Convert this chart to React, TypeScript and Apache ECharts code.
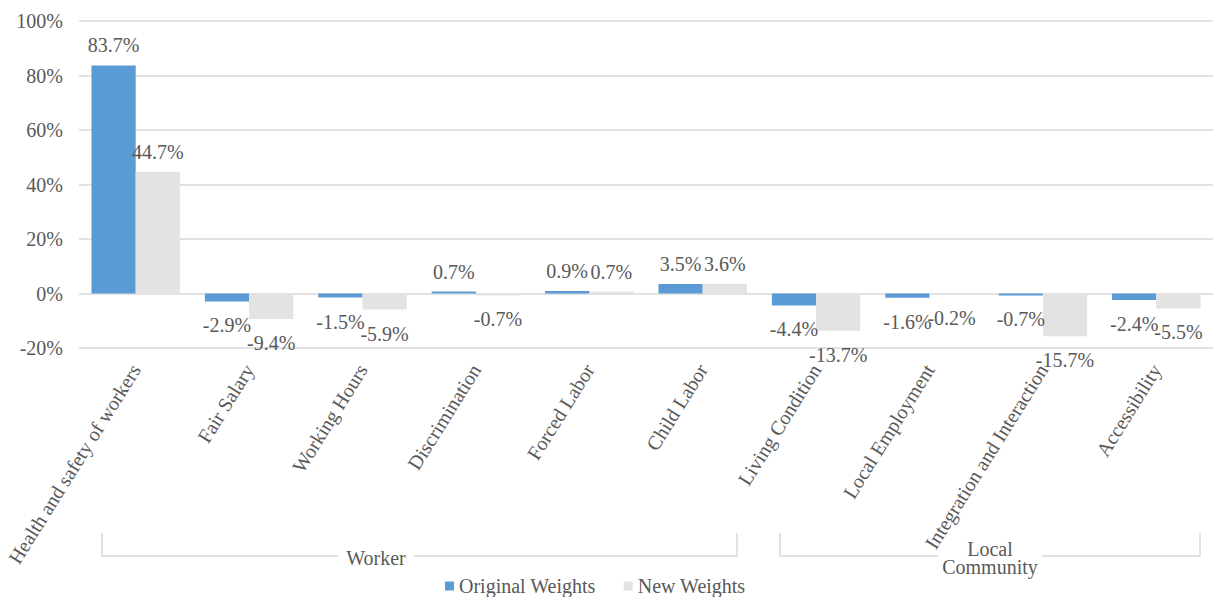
import React, { useEffect, useRef } from "react";
import * as echarts from "echarts";

const categories = [
  "Health and safety of workers",
  "Fair Salary",
  "Working Hours",
  "Discrimination",
  "Forced Labor",
  "Child Labor",
  "Living Condition",
  "Local Employment",
  "Integration and Interaction",
  "Accessibility",
];
const originalWeights = [83.7, -2.9, -1.5, 0.7, 0.9, 3.5, -4.4, -1.6, -0.7, -2.4];
const newWeights = [44.7, -9.4, -5.9, -0.7, 0.7, 3.6, -13.7, -0.2, -15.7, -5.5];
const groupNames = ["Worker", "Local\nCommunity"];

const FONT = "Liberation Serif";
const TEXT = "#595959";
const FS = 20;

function toItems(values: number[]) {
  return values.map((v) => ({
    value: v,
    label: {
      position: v < 0 ? "bottom" : "top",
      distance: v < 0 ? 14 : 10,
    },
  }));
}

export default function App() {
  const ref = useRef<HTMLDivElement>(null);
  useEffect(() => {
    if (!ref.current) return;
    const chart = echarts.init(ref.current, null, { renderer: "svg" });
    const lineStyle = { stroke: "#d9d9d9", lineWidth: 1.5 };
    const seriesLabel = {
      show: true,
      fontFamily: FONT,
      fontSize: FS,
      color: TEXT,
      formatter: (p: any) => p.value.toFixed(1) + "%",
    };
    chart.setOption({
      animation: false,
      textStyle: { fontFamily: FONT, fontSize: FS },
      grid: { left: 79, right: 2, top: 21, bottom: 249 },
      legend: {
        left: 440,
        top: 571,
        itemWidth: 9,
        itemHeight: 9,
        itemGap: 28,
        icon: "rect",
        textStyle: { fontFamily: FONT, fontSize: FS, color: TEXT },
        data: ["Original Weights", "New Weights"],
      },
      xAxis: {
        type: "category",
        data: categories,
        axisLine: { show: false },
        axisTick: { show: false },
        axisLabel: {
          interval: 0,
          rotate: 58,
          margin: 18,
          fontFamily: FONT,
          fontSize: FS,
          color: TEXT,
        },
      },
      yAxis: {
        type: "value",
        min: -20,
        max: 100,
        interval: 20,
        axisLabel: {
          formatter: "{value}%",
          fontFamily: FONT,
          fontSize: FS,
          color: TEXT,
          margin: 16,
        },
        splitLine: { lineStyle: { color: "#d9d9d9", width: 1.5 } },
        axisLine: { show: false },
        axisTick: { show: false },
      },
      series: [
        {
          name: "Original Weights",
          type: "bar",
          data: toItems(originalWeights),
          itemStyle: { color: "#5b9bd5" },
          barGap: "0%",
          barCategoryGap: "22%",
          label: seriesLabel,
        },
        {
          name: "New Weights",
          type: "bar",
          data: toItems(newWeights),
          itemStyle: { color: "#e3e3e3" },
          barGap: "0%",
          barCategoryGap: "22%",
          label: seriesLabel,
        },
      ],
      graphic: [
        { type: "polyline", shape: { points: [[102, 533], [102, 556], [737, 556], [737, 533]] }, style: { ...lineStyle, fill: null } },
        { type: "polyline", shape: { points: [[780, 533], [780, 556], [1200, 556], [1200, 533]] }, style: { ...lineStyle, fill: null } },
        {
          type: "text",
          x: 376,
          y: 558,
          style: {
            text: groupNames[0],
            fontFamily: FONT,
            fontSize: FS,
            fill: TEXT,
            align: "center",
            verticalAlign: "middle",
            backgroundColor: "#fff",
            padding: [0, 8],
          },
        },
        {
          type: "text",
          x: 990,
          y: 558,
          style: {
            text: groupNames[1],
            fontFamily: FONT,
            fontSize: FS,
            lineHeight: 18,
            fill: TEXT,
            align: "center",
            verticalAlign: "middle",
            backgroundColor: "#fff",
            padding: [0, 4],
          },
        },
      ],
    });
    return () => chart.dispose();
  }, []);
  return (
    <div
      ref={ref}
      style={{ position: "fixed", left: 0, top: 0, width: 1215, height: 597, background: "#fff" }}
    />
  );
}
